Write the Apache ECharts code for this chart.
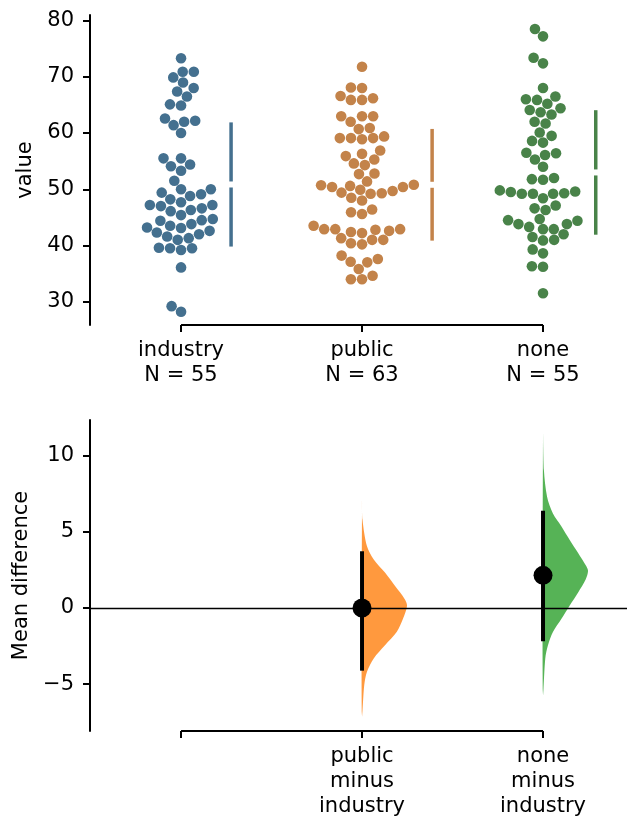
<!DOCTYPE html>
<html><head><meta charset="utf-8">
<script src="https://cdn.jsdelivr.net/npm/echarts@6/dist/echarts.min.js"></script>
<style>html,body{margin:0;padding:0;background:#fff}#c{width:627px;height:819px}</style>
</head><body><div id="c"></div>
<script>
// ---------------- data ----------------
const groups = ['industry', 'public', 'none'];
const industryVals = [73.3, 70.9, 70.9, 69.9, 69.0, 68.0, 67.4, 66.5, 65.1, 64.9, 62.6, 61.4, 62.0, 62.2, 60.0,
  55.5, 55.5, 54.1, 54.4, 53.3, 51.5, 50.0, 50.0, 49.1, 48.8, 49.4, 48.2, 47.7, 47.2, 46.3, 46.1, 46.6, 47.0, 47.2,
  45.4, 44.5, 43.8, 44.4, 44.7, 43.2, 43.5, 43.1, 42.6, 42.0, 42.3, 41.3, 41.6, 41.0, 39.5, 39.2, 39.5, 39.6,
  36.1, 29.2, 28.2];
const publicVals = [71.8, 68.1, 68.0, 66.6, 65.9, 65.9, 66.2, 63.0, 63.0, 63.0, 62.0, 60.9, 60.7, 59.1, 59.1, 58.9,
  59.1, 59.4, 56.9, 55.9, 56.3, 55.3, 54.6, 54.3, 52.7, 52.8, 51.4, 50.4, 50.4, 50.8, 50.7, 50.6, 49.4, 49.9, 49.7,
  49.2, 49.3, 48.5, 48.0, 45.9, 45.6, 46.4, 43.5, 42.9, 42.9, 42.4, 42.2, 42.8, 42.6, 42.9, 41.3, 40.4, 41.0, 41.0,
  40.2, 38.2, 37.1, 37.0, 37.6, 35.8, 34.0, 34.0, 34.6];
const noneVals = [78.5, 77.2, 73.4, 72.4, 68.0, 66.0, 65.9, 66.5, 65.2, 64.1, 63.7, 63.3, 64.4, 62.0, 61.7, 60.1,
  58.6, 58.3, 59.5, 56.5, 55.3, 56.1, 56.4, 54.0, 51.8, 51.7, 52.0, 49.6, 49.2, 49.2, 48.4, 49.2, 49.3, 49.5, 49.8,
  46.6, 46.3, 47.1, 44.7, 44.4, 43.8, 43.3, 42.9, 42.9, 43.8, 44.5, 41.5, 40.9, 41.0, 42.0, 39.3, 38.6, 36.3, 36.2,
  31.5];
const groupValues = [industryVals, publicVals, noneVals];

const diffLabels = ['public\nminus\nindustry', 'none\nminus\nindustry'];
const meanDiff = [0.0, 2.14];
const ciLow = [-4.11, -2.19];
const ciHigh = [3.72, 6.38];
// bootstrap distribution outline (value, relative width)
const publicDistAt = [7.1, 5.8, 4.05, 3.18, 2.32, 1.45, 0.58, 0.15, -0.71, -1.58, -2.45, -3.31, -4.18, -5.04, -7.1];
const publicDistW  = [0, 0.01, 0.11, 0.26, 0.51, 0.73, 0.95, 1.0, 0.91, 0.77, 0.51, 0.26, 0.11, 0.05, 0];
const noneDistAt = [11.4, 9.03, 7.3, 6.2, 5.35, 4.48, 3.61, 2.75, 2.42, 1.88, 1.02, 0.15, -0.71, -1.58, -2.45, -3.31, -5.7];
const noneDistW  = [0, 0.02, 0.09, 0.22, 0.41, 0.59, 0.78, 0.96, 1.0, 0.95, 0.78, 0.59, 0.41, 0.22, 0.11, 0.05, 0];

const topTicks = [30, 40, 50, 60, 70, 80];
const bottomTicks = [-5, 0, 5, 10];

// ---------------- style ----------------
const FONT = 'DejaVu Sans';
const FS = 21;
const swarmColors = ['#44708f', '#c3834a', '#498349'];
const violinColors = ['rgba(255,127,14,0.8)', 'rgba(44,160,44,0.8)'];
const R = 5.3;
const X_MIN = -0.503, X_MAX = 2.464;
const Y0_MIN = 25.85, Y0_MAX = 81.0;
const Y1_MIN = -8.07, Y1_MAX = 12.33;

const chart = echarts.init(document.getElementById('c'));

function xAxisBase(grid, ticks, labels, fmt) {
  return {
    type: 'value', gridIndex: grid, min: X_MIN, max: X_MAX,
    axisLine: { show: false, onZero: false }, splitLine: { show: false },
    axisTick: { show: true, customValues: ticks, length: 7, lineStyle: { color: '#000', width: 2 } },
    axisLabel: { customValues: labels, formatter: fmt, margin: 13, color: '#000',
      fontFamily: FONT, fontSize: FS, lineHeight: 25 }
  };
}
function yAxisBase(grid, min, max, ticks, name, gap) {
  return {
    type: 'value', gridIndex: grid, min: min, max: max,
    name: name, nameLocation: 'middle', nameGap: gap,
    nameTextStyle: { fontFamily: FONT, fontSize: FS, color: '#000' },
    axisLine: { show: true, onZero: false, lineStyle: { color: '#000', width: 2 } },
    splitLine: { show: false },
    axisTick: { show: true, customValues: ticks, length: 7, lineStyle: { color: '#000', width: 2 } },
    axisLabel: { customValues: ticks, margin: 16, color: '#000', fontFamily: FONT, fontSize: FS,
      formatter: v => (v < 0 ? '\u2212' + Math.abs(v) : String(v)) }
  };
}

const baseOption = {
  animation: false,
  grid: [
    { left: 90, right: 0, top: 15, height: 310 },
    { left: 90, right: 0, top: 420, height: 313 }
  ],
  xAxis: [
    xAxisBase(0, [0, 1, 2], [0, 1, 2], v => groups[Math.round(v)] + '\nN = ' + groupValues[Math.round(v)].length),
    xAxisBase(1, [0, 1, 2], [1, 2], v => diffLabels[Math.round(v) - 1] || '')
  ],
  yAxis: [
    yAxisBase(0, Y0_MIN, Y0_MAX, topTicks, 'value', 52),
    yAxisBase(1, Y1_MIN, Y1_MAX, bottomTicks, 'Mean difference', 54)
  ],
  series: []
};
chart.setOption(baseOption);

// ---------------- swarm layout (seaborn-like beeswarm) ----------------
const pxPer = Math.abs(chart.convertToPixel({ yAxisIndex: 0 }, 40) - chart.convertToPixel({ yAxisIndex: 0 }, 50)) / 10;
function beeswarm(values) {
  const order = values.map((v, i) => i).sort((a, b) => values[a] - values[b]);
  const placed = [];
  const out = new Array(values.length);
  const d = 2 * R;
  for (const i of order) {
    const y = values[i] * pxPer;
    const nb = placed.filter(p => Math.abs(p.y - y) < d);
    const cands = [0];
    for (const p of nb) {
      const dy = y - p.y;
      const dx = Math.sqrt(Math.max(d * d - dy * dy, 0)) * 1.05;
      cands.push(p.x - dx, p.x + dx);
    }
    const sorted = cands.map((x, k) => ({ x, k })).sort((a, b) => (Math.abs(a.x) - Math.abs(b.x)) || (a.k - b.k));
    let chosen = 0;
    for (const c of sorted) {
      if (nb.every(p => (p.x - c.x) ** 2 + (p.y - y) ** 2 >= d * d - 1e-6)) { chosen = c.x; break; }
    }
    placed.push({ x: chosen, y });
    out[i] = chosen;
  }
  return out;
}

const series = [];
groupValues.forEach((vals, g) => {
  const offs = beeswarm(vals);
  series.push({
    type: 'custom', xAxisIndex: 0, yAxisIndex: 0, color: swarmColors[g],
    data: vals.map((v, i) => [g, v, offs[i]]),
    renderItem: (params, api) => {
      const c = api.coord([api.value(0), api.value(1)]);
      return { type: 'circle', shape: { cx: c[0] + api.value(2), cy: c[1], r: R }, style: { fill: swarmColors[g] } };
    }
  });
  const mean = vals.reduce((a, b) => a + b, 0) / vals.length;
  const sd = Math.sqrt(vals.reduce((a, b) => a + (b - mean) ** 2, 0) / (vals.length - 1));
  const lineOff = Math.max(...offs) + R + 13;
  series.push({
    type: 'custom', xAxisIndex: 0, yAxisIndex: 0,
    data: [[g, mean, sd, lineOff]],
    renderItem: (params, api) => {
      const m = api.value(1), s = api.value(2);
      const top = api.coord([api.value(0), m + s]);
      const mid = api.coord([api.value(0), m]);
      const bot = api.coord([api.value(0), m - s]);
      const x = mid[0] + api.value(3);
      const st = { stroke: swarmColors[g], lineWidth: 3.5 };
      return { type: 'group', children: [
        { type: 'line', shape: { x1: x, y1: top[1], x2: x, y2: mid[1] - 3 }, style: st },
        { type: 'line', shape: { x1: x, y1: mid[1] + 3, x2: x, y2: bot[1] }, style: st }
      ] };
    }
  });
});

// top x spine (from first to last group)
series.push({
  type: 'line', xAxisIndex: 0, yAxisIndex: 0, clip: false, symbol: 'none', silent: true,
  data: [[0, Y0_MIN], [2, Y0_MIN]], lineStyle: { color: '#000', width: 2 }
});
// bottom x spine + zero line
series.push({
  type: 'line', xAxisIndex: 1, yAxisIndex: 1, clip: false, symbol: 'none', silent: true,
  data: [[0, Y1_MIN], [2, Y1_MIN]], lineStyle: { color: '#000', width: 2 },
  markLine: {
    silent: true, symbol: ['none', 'none'], label: { show: false },
    lineStyle: { color: '#000', width: 1.3, type: 'solid' },
    data: [{ yAxis: 0 }]
  }
});

// bootstrap distributions (half violins)
const dists = [[publicDistAt, publicDistW], [noneDistAt, noneDistW]];
dists.forEach((dd, k) => {
  series.push({
    type: 'custom', xAxisIndex: 1, yAxisIndex: 1,
    data: [[k + 1]],
    renderItem: (params, api) => {
      const xi = api.value(0);
      const pts = dd[0].map((v, j) => {
        const c = api.coord([xi, v]);
        return [c[0] + dd[1][j] * 45, c[1]];
      });
      return { type: 'polygon', shape: { points: pts, smooth: 0.3 }, style: { fill: violinColors[k] } };
    }
  });
});

// mean difference and CI
series.push({
  type: 'custom', xAxisIndex: 1, yAxisIndex: 1,
  data: meanDiff.map((m, k) => [k + 1, m, ciLow[k], ciHigh[k]]),
  renderItem: (params, api) => {
    const lo = api.coord([api.value(0), api.value(2)]);
    const hi = api.coord([api.value(0), api.value(3)]);
    const c = api.coord([api.value(0), api.value(1)]);
    return { type: 'group', children: [
      { type: 'line', shape: { x1: lo[0], y1: lo[1], x2: hi[0], y2: hi[1] }, style: { stroke: '#000', lineWidth: 4 } },
      { type: 'circle', shape: { cx: c[0], cy: c[1], r: 9.5 }, style: { fill: '#000' } }
    ] };
  }
});

chart.setOption({ series: series });
</script>
</body></html>
